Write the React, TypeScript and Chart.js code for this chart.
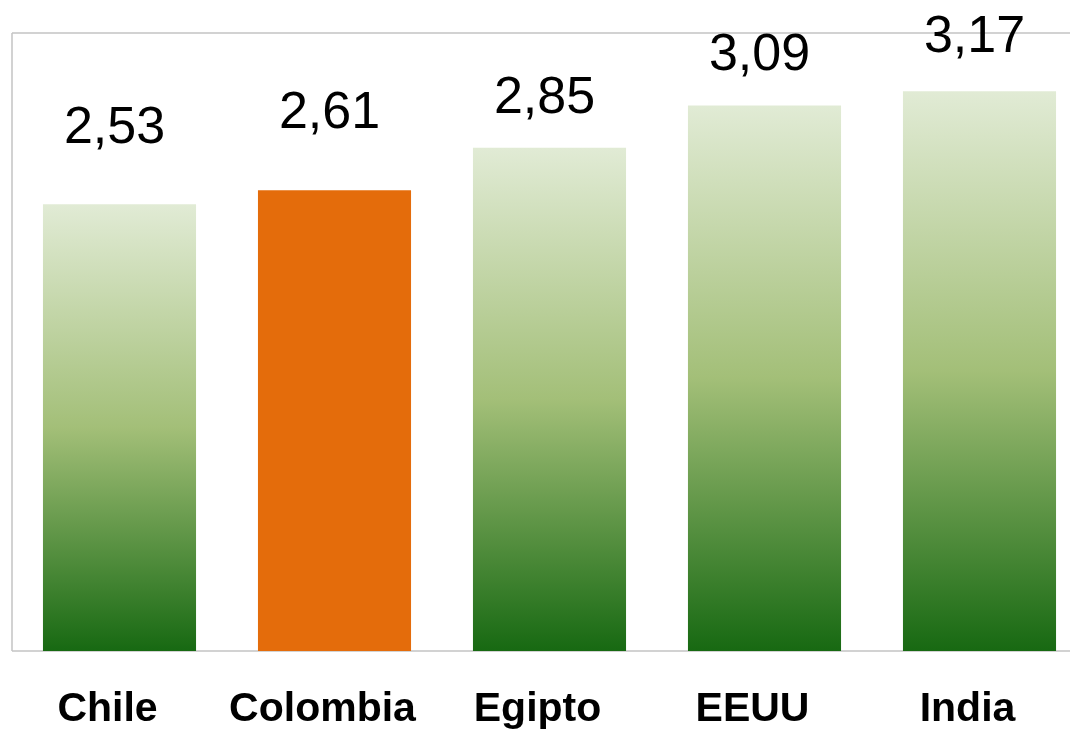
import React, { useEffect, useRef } from "react";
import { Chart, registerables } from "chart.js";

Chart.register(...registerables);

const categories = ["Chile", "Colombia", "Egipto", "EEUU", "India"];
const values = [2.53, 2.61, 2.85, 3.09, 3.17];
const valueLabels = ["2,53", "2,61", "2,85", "3,09", "3,17"];
const highlighted = "Colombia";

const labelGaps = [61, 62, 35, 35, 39];
const FONT = "'Liberation Sans', Arial, Helvetica, sans-serif";

const bordersPlugin = {
  id: "borders",
  beforeDatasetsDraw(chart: any) {
    const { ctx, chartArea } = chart;
    ctx.save();
    ctx.strokeStyle = "#c4c4c4";
    ctx.lineWidth = 1.5;
    ctx.beginPath();
    ctx.moveTo(chartArea.left, chartArea.top);
    ctx.lineTo(chartArea.right, chartArea.top);
    ctx.moveTo(chartArea.left, chartArea.top);
    ctx.lineTo(chartArea.left, chartArea.bottom);
    ctx.moveTo(chartArea.left, chartArea.bottom);
    ctx.lineTo(chartArea.right, chartArea.bottom);
    ctx.stroke();
    ctx.restore();
  },
};

const valueLabelPlugin = {
  id: "valueLabels",
  afterDatasetsDraw(chart: any) {
    const { ctx } = chart;
    const meta = chart.getDatasetMeta(0);
    ctx.save();
    ctx.fillStyle = "#000000";
    ctx.font = `52px ${FONT}`;
    ctx.textAlign = "center";
    ctx.textBaseline = "alphabetic";
    meta.data.forEach((bar: any, i: number) => {
      ctx.fillText(valueLabels[i], bar.x - 5, bar.y - labelGaps[i]);
    });
    ctx.restore();
  },
};

function barColor(context: any) {
  const chart = context.chart;
  const idx = context.dataIndex;
  if (categories[idx] === highlighted) return "#e46c0b";
  const area = chart.chartArea;
  if (!area) return "#8fb05f";
  const yScale = chart.scales.y;
  const top = yScale.getPixelForValue(values[idx]);
  const bottom = yScale.getPixelForValue(0);
  const g = chart.ctx.createLinearGradient(0, top, 0, bottom);
  g.addColorStop(0, "#e1ebd5");
  g.addColorStop(0.5, "#a3bf78");
  g.addColorStop(1, "#176912");
  return g;
}

export default function App() {
  const canvasRef = useRef<HTMLCanvasElement | null>(null);

  useEffect(() => {
    if (!canvasRef.current) return;
    const chart = new Chart(canvasRef.current, {
      type: "bar",
      data: {
        labels: categories,
        datasets: [
          {
            data: values,
            backgroundColor: barColor as any,
            borderWidth: 0,
            barPercentage: 0.712,
            categoryPercentage: 1,
          },
        ],
      },
      options: {
        animation: false,
        responsive: false,
        maintainAspectRatio: false,
        layout: { padding: { top: 33, left: 12, right: 0, bottom: 1 } },
        plugins: {
          legend: { display: false },
          tooltip: { enabled: false },
        },
        scales: {
          x: {
            grid: { display: false, drawTicks: false },
            border: { display: false },
            ticks: {
              color: "#000000",
              padding: 34,
              labelOffset: -12,
              font: { family: FONT, size: 41, weight: "bold" },
            },
            afterFit: (scale: any) => {
              scale.height = 80;
            },
          },
          y: {
            display: false,
            min: 0,
            max: 3.5,
          },
        },
      },
      plugins: [bordersPlugin, valueLabelPlugin],
    });
    return () => chart.destroy();
  }, []);

  return (
    <div
      style={{
        position: "absolute",
        left: 0,
        top: 0,
        width: 1070,
        height: 732,
        overflow: "hidden",
        background: "#ffffff",
      }}
    >
      <canvas ref={canvasRef} width={1087} height={732} style={{ display: "block" }} />
    </div>
  );
}
